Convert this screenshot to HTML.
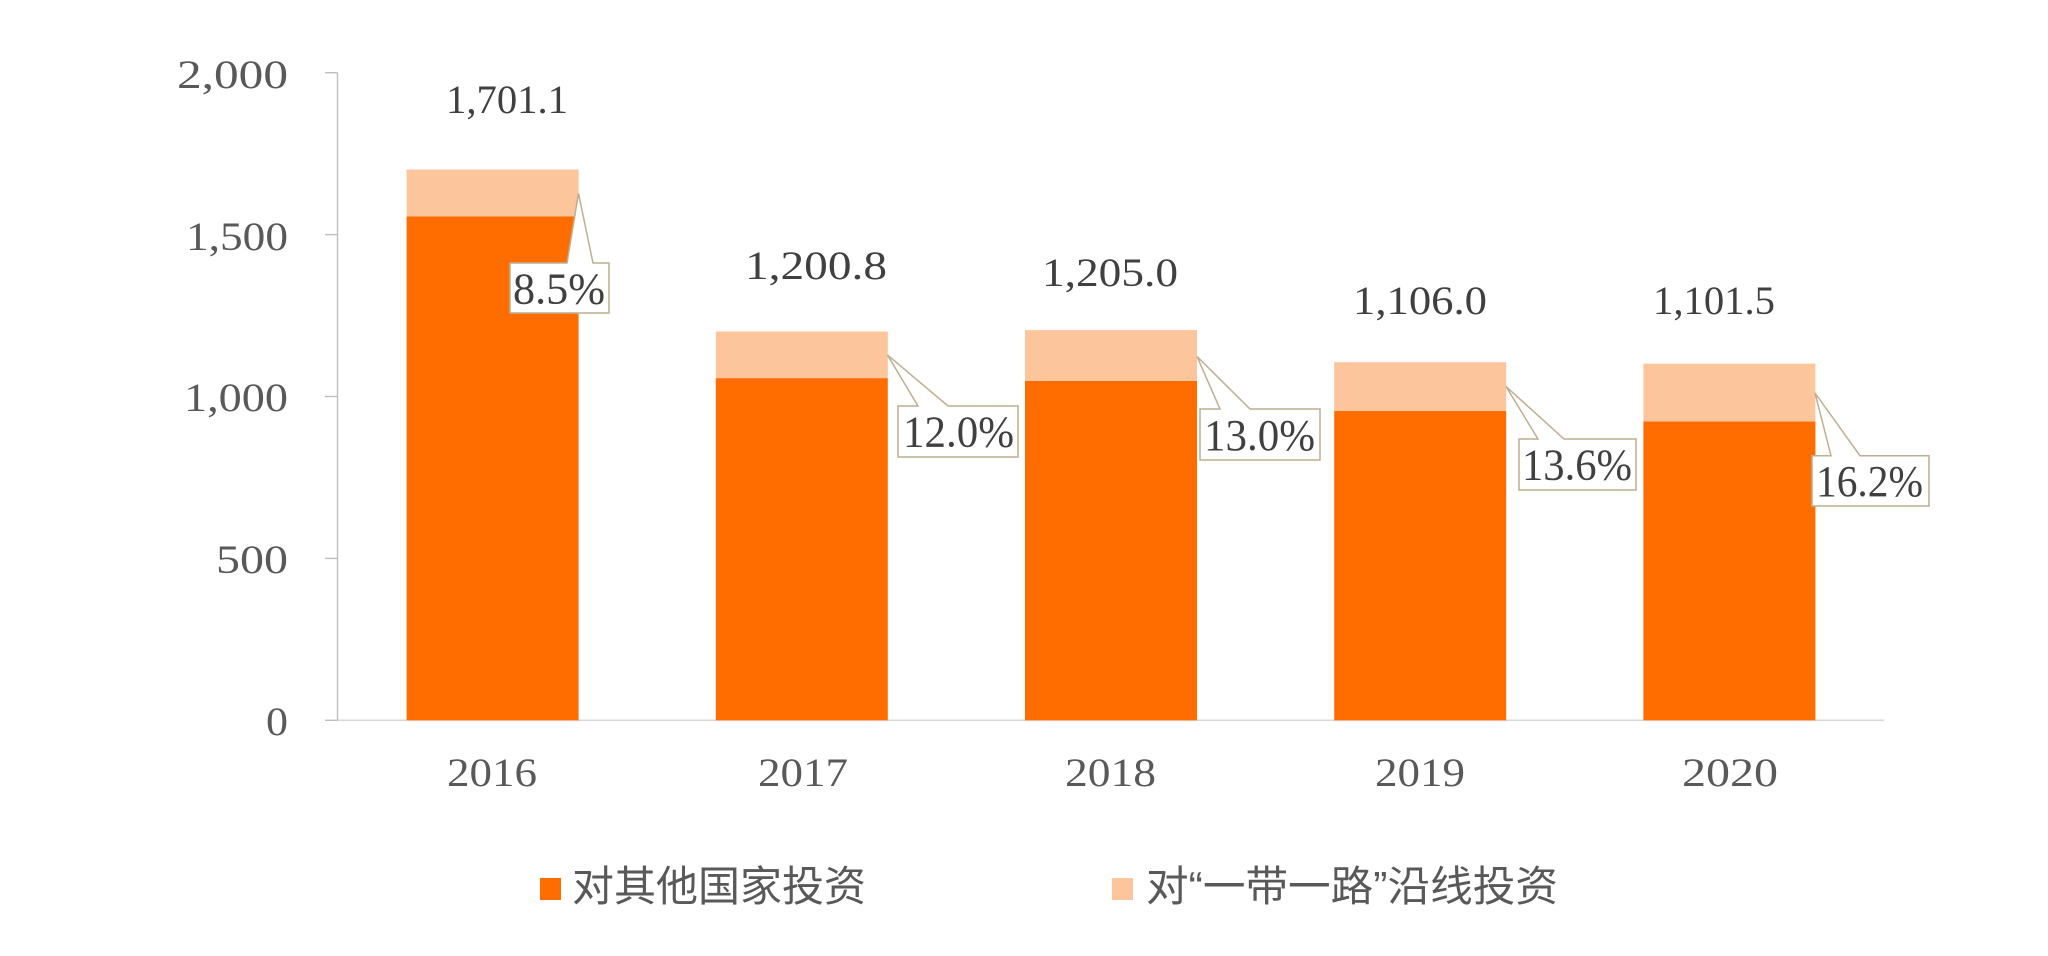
<!DOCTYPE html>
<html>
<head>
<meta charset="utf-8">
<style>
  html, body { margin: 0; padding: 0; background: #ffffff; }
  body { width: 2048px; height: 956px; overflow: hidden; }
  svg { display: block; }
  .ax { font-family: "Liberation Serif", "DejaVu Serif", serif; font-size: 40px; fill: #595959; }
  .dl { font-family: "Liberation Serif", "DejaVu Serif", serif; font-size: 40px; fill: #404040; }
  .pc { font-family: "Liberation Serif", "DejaVu Serif", serif; font-size: 44px; fill: #404040; }
  .lg { font-family: "Liberation Sans", "Noto Sans CJK SC", sans-serif; font-size: 42px; fill: #595959; }
</style>
</head>
<body>
<svg width="2048" height="956" viewBox="0 0 2048 956" xmlns="http://www.w3.org/2000/svg">
  <rect x="0" y="0" width="2048" height="956" fill="#ffffff"/>

  <!-- axes -->
  <line x1="337.5" y1="72.7" x2="337.5" y2="720.3" stroke="#BFBFBF" stroke-width="1.4"/>
  <line x1="337.5" y1="720.3" x2="1884" y2="720.3" stroke="#D9D9D9" stroke-width="1.6"/>
  <g stroke="#BFBFBF" stroke-width="1.4">
    <line x1="325" y1="72.7" x2="337.5" y2="72.7"/>
    <line x1="325" y1="234.6" x2="337.5" y2="234.6"/>
    <line x1="325" y1="396.5" x2="337.5" y2="396.5"/>
    <line x1="325" y1="558.4" x2="337.5" y2="558.4"/>
    <line x1="325" y1="720.3" x2="337.5" y2="720.3"/>
  </g>

  <!-- y labels -->
  <text class="ax" x="177" y="88" textLength="111" lengthAdjust="spacingAndGlyphs">2,000</text>
  <text class="ax" x="186" y="250" textLength="102" lengthAdjust="spacingAndGlyphs">1,500</text>
  <text class="ax" x="184" y="411" textLength="104" lengthAdjust="spacingAndGlyphs">1,000</text>
  <text class="ax" x="216" y="573" textLength="72" lengthAdjust="spacingAndGlyphs">500</text>
  <text class="ax" x="266" y="735" textLength="22" lengthAdjust="spacingAndGlyphs">0</text>

  <!-- bars: dark = other countries, light = BRI -->
  <g fill="#FF6D00">
    <rect x="406.6" y="216.3" width="172" height="504.0"/>
    <rect x="715.8" y="378.1" width="172" height="342.2"/>
    <rect x="1025" y="380.8" width="172" height="339.5"/>
    <rect x="1334.2" y="410.9" width="172" height="309.4"/>
    <rect x="1643.4" y="421.4" width="172" height="298.9"/>
  </g>
  <g fill="#FCC59B">
    <rect x="406.6" y="169.5" width="172" height="46.8"/>
    <rect x="715.8" y="331.5" width="172" height="46.6"/>
    <rect x="1025" y="330.1" width="172" height="50.7"/>
    <rect x="1334.2" y="362.2" width="172" height="48.7"/>
    <rect x="1643.4" y="363.6" width="172" height="57.8"/>
  </g>

  <!-- total data labels -->
  <text class="dl" x="446" y="113" textLength="122" lengthAdjust="spacingAndGlyphs">1,701.1</text>
  <text class="dl" x="745" y="279" textLength="142" lengthAdjust="spacingAndGlyphs">1,200.8</text>
  <text class="dl" x="1042" y="286" textLength="136" lengthAdjust="spacingAndGlyphs">1,205.0</text>
  <text class="dl" x="1353" y="314" textLength="134" lengthAdjust="spacingAndGlyphs">1,106.0</text>
  <text class="dl" x="1653" y="314" textLength="122" lengthAdjust="spacingAndGlyphs">1,101.5</text>

  <!-- callouts -->
  <g fill="#ffffff" stroke="#BFAE8F" stroke-width="1.5" stroke-linejoin="miter">
    <path d="M510 263 L567 263 L578.5 193.5 L593 263 L609 263 L609 313 L510 313 Z"/>
    <path d="M898 406 L918 406 L887.5 355 L948 406 L1018 406 L1018 457 L898 457 Z"/>
    <path d="M1200 409 L1220 409 L1197 356.5 L1250 409 L1320 409 L1320 460 L1200 460 Z"/>
    <path d="M1519 439 L1538 439 L1506 386.5 L1564 439 L1636 439 L1636 490 L1519 490 Z"/>
    <path d="M1812 455.7 L1831 455.7 L1815 393 L1860 455.7 L1929 455.7 L1929 506 L1812 506 Z"/>
  </g>
  <text class="pc" x="513" y="303.5" textLength="92" lengthAdjust="spacingAndGlyphs">8.5%</text>
  <text class="pc" x="903" y="446.5" textLength="111" lengthAdjust="spacingAndGlyphs">12.0%</text>
  <text class="pc" x="1204" y="450" textLength="111" lengthAdjust="spacingAndGlyphs">13.0%</text>
  <text class="pc" x="1522" y="479.5" textLength="110" lengthAdjust="spacingAndGlyphs">13.6%</text>
  <text class="pc" x="1816" y="496" textLength="107" lengthAdjust="spacingAndGlyphs">16.2%</text>

  <!-- x labels -->
  <text class="ax" x="447" y="786" textLength="90" lengthAdjust="spacingAndGlyphs">2016</text>
  <text class="ax" x="758" y="786" textLength="90" lengthAdjust="spacingAndGlyphs">2017</text>
  <text class="ax" x="1065" y="786" textLength="91" lengthAdjust="spacingAndGlyphs">2018</text>
  <text class="ax" x="1375" y="786" textLength="90" lengthAdjust="spacingAndGlyphs">2019</text>
  <text class="ax" x="1682" y="786" textLength="96" lengthAdjust="spacingAndGlyphs">2020</text>

  <!-- legend -->
  <rect x="540" y="878" width="21" height="22" fill="#FF6D00"/>
  <text class="lg" x="572" y="901" textLength="294" lengthAdjust="spacingAndGlyphs">对其他国家投资</text>
  <rect x="1112" y="878" width="21" height="22" fill="#FCC59B"/>
  <text class="lg" x="1146" y="901" textLength="412" lengthAdjust="spacingAndGlyphs">对“一带一路”沿线投资</text>
</svg>
</body>
</html>
